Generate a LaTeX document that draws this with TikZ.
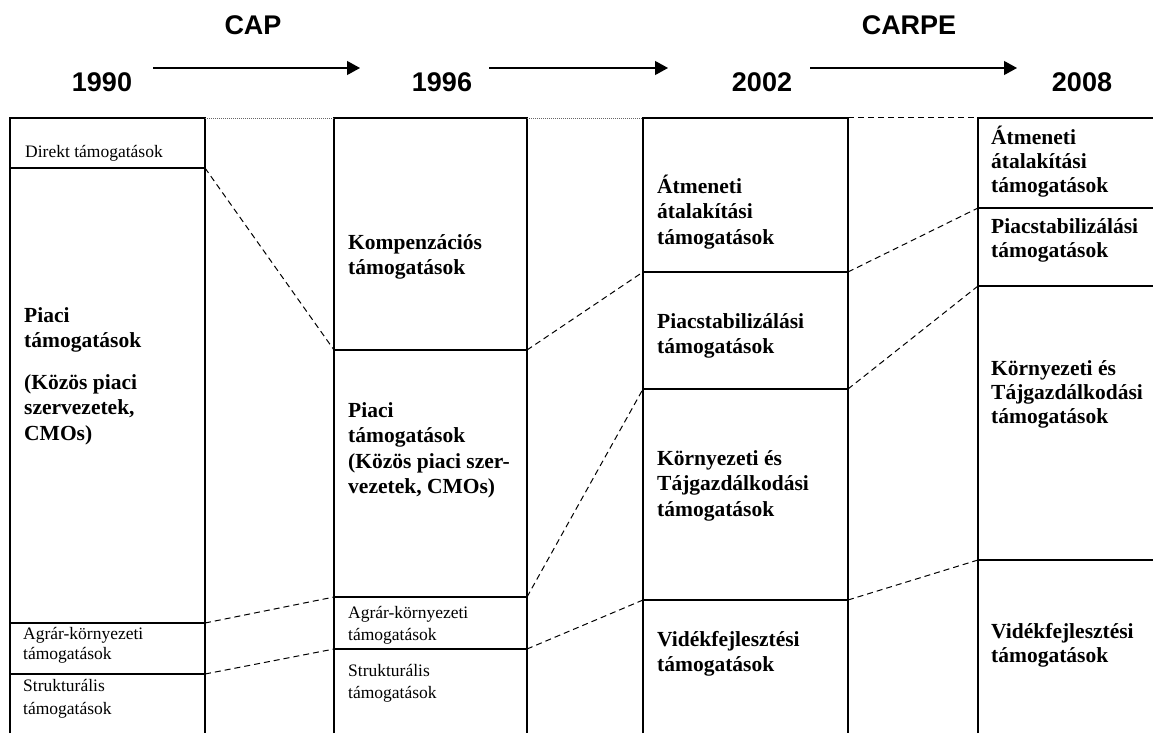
\documentclass[tikz,border=0pt]{standalone}
\usepackage{fontspec}
\setmainfont{Liberation Serif}
\newfontfamily\hdrfont{Liberation Sans}
\usetikzlibrary{arrows.meta}
\newcommand\bstrut{\rule{0pt}{22pt}}
\newcommand\sstrut{\rule{0pt}{17pt}}
\begin{document}
\begin{tikzpicture}[x=1pt,y=-1pt,
  frame/.style={line width=1.3pt},
  conn/.style={line width=1pt, dash pattern=on 6pt off 4pt},
  dotline/.style={line width=0.7pt, dash pattern=on 1pt off 1pt, black!60},
  hdr/.style={font=\hdrfont\bfseries\fontsize{27}{30}\selectfont, anchor=base, inner sep=0},
  big/.style={font=\bfseries\fontsize{21.5}{25.5}\selectfont, align=left, anchor=north west, inner sep=0},
  bigc/.style={font=\bfseries\fontsize{21.5}{24}\selectfont, align=left, anchor=north west, inner sep=0},
  small/.style={font=\fontsize{17.5}{22}\selectfont, align=left, anchor=north west, inner sep=0},
  arr/.style={-{Triangle[length=13pt,width=14pt]}, line width=1.2pt}]
\useasboundingbox (0,0) rectangle (1153,733);

% headers
\node[hdr] (cap) at (253,35) {CAP};
\node[hdr] (carpe) at (909,35) {CARPE};
\node[hdr] (y1990) at (102,92) {1990};
\node[hdr] (y1996) at (442,92) {1996};
\node[hdr] (y2002) at (762,92) {2002};
\node[hdr] (y2008) at (1082,92) {2008};
\coordinate (a1s) at (153,68); \coordinate (a1e) at (360,68);
\coordinate (a2s) at (489,68); \coordinate (a2e) at (668,68);
\coordinate (a3s) at (810,68); \coordinate (a3e) at (1017,68);
\draw[arr] (a1s) -- (a1e);
\draw[arr] (a2s) -- (a2e);
\draw[arr] (a3s) -- (a3e);

% column 1
\coordinate (c1tl) at (10,118); \coordinate (c1tr) at (205,118);
\coordinate (c1bl) at (10,733); \coordinate (c1br) at (205,733);
\coordinate (c1a) at (205,168); \coordinate (c1b) at (205,623); \coordinate (c1c) at (205,674);
\draw[frame] (c1bl) -- (c1tl) -- (c1tr) -- (c1br);
\draw[frame] (10,168) -- (c1a);
\draw[frame] (10,623) -- (c1b);
\draw[frame] (10,674) -- (c1c);

% column 2
\coordinate (c2tl) at (334,118); \coordinate (c2tr) at (527,118);
\coordinate (c2bl) at (334,733); \coordinate (c2br) at (527,733);
\coordinate (c2al) at (334,350); \coordinate (c2ar) at (527,350);
\coordinate (c2bl2) at (334,597); \coordinate (c2br2) at (527,597);
\coordinate (c2cl) at (334,649); \coordinate (c2cr) at (527,649);
\draw[frame] (c2bl) -- (c2tl) -- (c2tr) -- (c2br);
\draw[frame] (c2al) -- (c2ar);
\draw[frame] (c2bl2) -- (c2br2);
\draw[frame] (c2cl) -- (c2cr);

% column 3
\coordinate (c3tl) at (643,118); \coordinate (c3tr) at (848,118);
\coordinate (c3bl) at (643,733); \coordinate (c3br) at (848,733);
\coordinate (c3al) at (643,272); \coordinate (c3ar) at (848,272);
\coordinate (c3bl2) at (643,389); \coordinate (c3br2) at (848,389);
\coordinate (c3cl) at (643,600); \coordinate (c3cr) at (848,600);
\draw[frame] (c3bl) -- (c3tl) -- (c3tr) -- (c3br);
\draw[frame] (c3al) -- (c3ar);
\draw[frame] (c3bl2) -- (c3br2);
\draw[frame] (c3cl) -- (c3cr);

% column 4
\coordinate (c4tl) at (978,118); \coordinate (c4tr) at (1153,118);
\coordinate (c4bl) at (978,733);
\coordinate (c4al) at (978,208); \coordinate (c4bl2) at (978,286); \coordinate (c4cl) at (978,560);
\draw[frame] (c4bl) -- (c4tl) -- (c4tr);
\draw[frame] (c4al) -- (1153,208);
\draw[frame] (c4bl2) -- (1153,286);
\draw[frame] (c4cl) -- (1153,560);

% top connectors
\draw[dotline] (c1tr) -- (c2tl);
\draw[dotline] (c2tr) -- (c3tl);
\draw[conn] (c3tr) -- (c4tl);

% dashed connectors
\draw[conn] (c1a) -- (c2al);
\draw[conn] (c1b) -- (c2bl2);
\draw[conn] (c1c) -- (c2cl);
\draw[conn] (c2ar) -- (c3al);
\draw[conn] (c2br2) -- (c3bl2);
\draw[conn] (c2cr) -- (c3cl);
\draw[conn] (c3ar) -- (c4al);
\draw[conn] (c3br2) -- (c4bl2);
\draw[conn] (c3cr) -- (c4cl);

% column 1 texts
\node[small] (t1a) at (25,140) {\sstrut Direkt támogatások};
\node[big] (t1b) at (24,300) {\bstrut Piaci\\támogatások\\[16pt](Közös piaci\\szervezetek,\\CMOs)};
\node[small,font=\fontsize{17.5}{20}\selectfont] (t1c) at (23,622) {\sstrut Agrár-környezeti\\támogatások};
\node[small,font=\fontsize{17.5}{23.5}\selectfont] (t1d) at (23,674) {\sstrut Strukturális\\támogatások};

% column 2 texts
\node[big] (t2a) at (348,227) {\bstrut Kompenzációs\\támogatások};
\node[big] (t2b) at (348,395) {\bstrut Piaci\\támogatások\\(Közös piaci szer-\\vezetek, CMOs)};
\node[small] (t2c) at (348,601) {\sstrut Agrár-környezeti\\támogatások};
\node[small] (t2d) at (348,659) {\sstrut Strukturális\\támogatások};

% column 3 texts
\node[big] (t3a) at (657,171) {\bstrut Átmeneti\\átalakítási\\támogatások};
\node[big] (t3b) at (657,306) {\bstrut Piacstabilizálási\\támogatások};
\node[big] (t3c) at (657,443) {\bstrut Környezeti és\\Tájgazdálkodási\\támogatások};
\node[big] (t3d) at (657,624) {\bstrut Vidékfejlesztési\\támogatások};

% column 4 texts
\node[bigc] (t4a) at (991,122) {\bstrut Átmeneti\\átalakítási\\támogatások};
\node[bigc] (t4b) at (991,211) {\bstrut Piacstabilizálási\\támogatások};
\node[bigc] (t4c) at (991,353) {\bstrut Környezeti és\\Tájgazdálkodási\\támogatások};
\node[bigc] (t4d) at (991,616) {\bstrut Vidékfejlesztési\\támogatások};
\end{tikzpicture}
\end{document}
